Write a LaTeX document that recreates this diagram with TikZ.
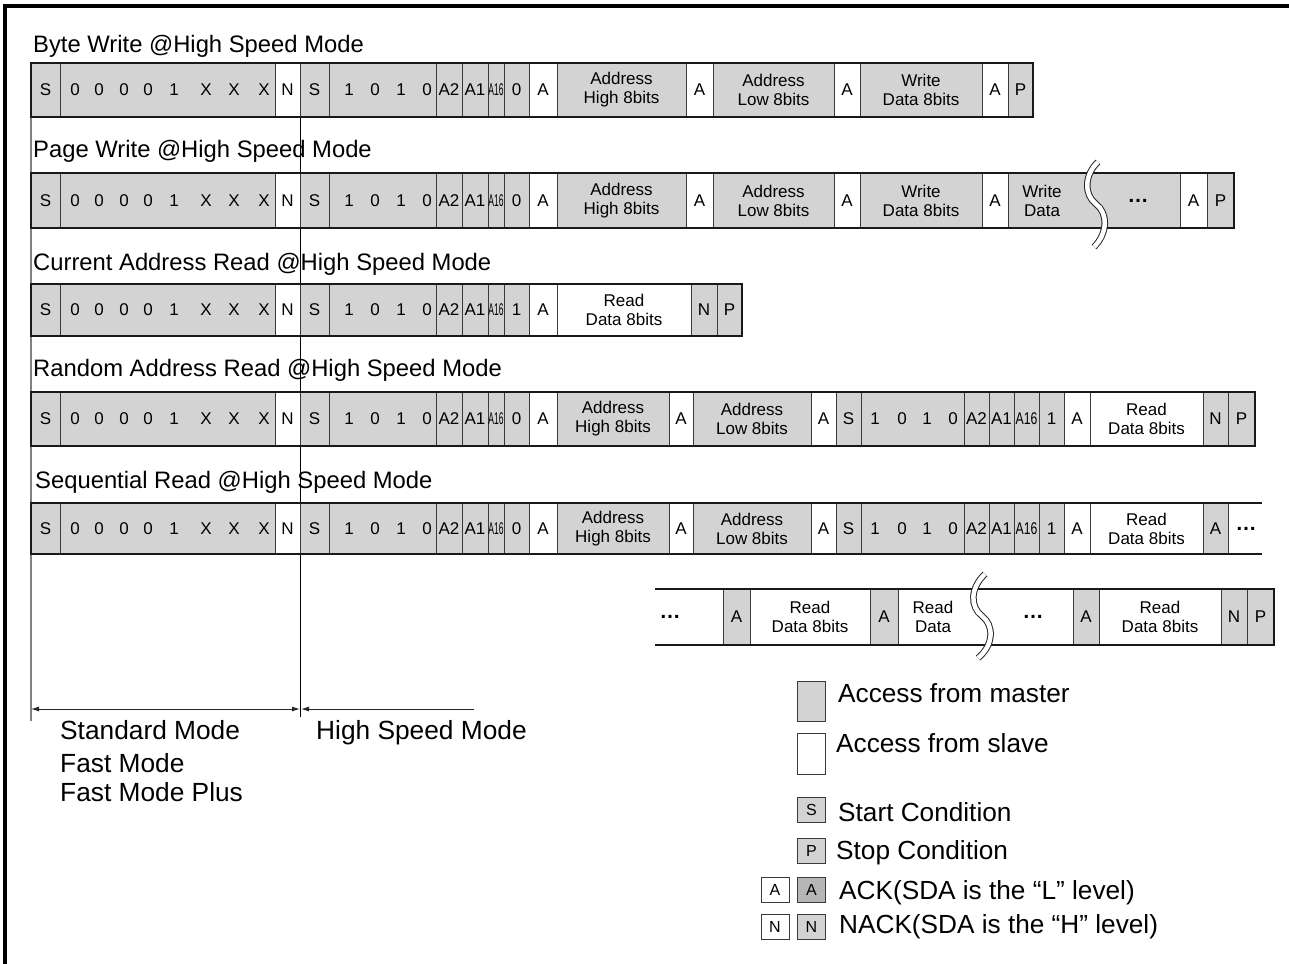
\documentclass[tikz,border=0pt]{standalone}
\usepackage{fontspec}
\setmainfont{Liberation Sans}
\usepackage{graphicx}
\usetikzlibrary{arrows.meta}
\definecolor{mgrey}{HTML}{D3D3D3}
\definecolor{dgrey}{HTML}{B6B6B6}
\definecolor{lineclr}{HTML}{3A3A3A}
\newcount\cellno
\newcommand{\yt}{0}
\newcommand{\yb}{0}
\newcommand{\setrow}[2]{\renewcommand{\yt}{#1}\renewcommand{\yb}{#2}}
\newcommand{\cellbx}[4]{%
  \global\advance\cellno by 1
  \filldraw[cellframe, fill=#3] (#1,\yt) rectangle (#2,\yb);
  \node[celltxt] (cell\the\cellno) at ({(#1+#2)/2},{(\yt+\yb)/2}) {#4};}
\newcommand{\plainbx}[3]{%
  \filldraw[cellframe, fill=#3] (#1,\yt) rectangle (#2,\yb);}
\newcommand{\chr}[2]{%
  \global\advance\cellno by 1
  \node[celltxt] (cell\the\cellno) at (#1,{(\yt+\yb)/2}) {#2};}
\newcommand{\dotstxt}{{\fontsize{21}{21}\selectfont\textbf{\char"2026}}}
\newcommand{\narrowA}{\scalebox{0.5}[1]{A16}}
\newcommand{\narrowB}{\scalebox{0.72}[1]{A16}}
\newcommand{\leftpart}[1]{%
  \cellbx{31}{60}{mgrey}{S}%
  \plainbx{60}{275}{mgrey}%
  \chr{75}{0}\chr{99}{0}\chr{124}{0}\chr{148}{0}\chr{174}{1}\chr{206}{X}\chr{234}{X}\chr{264}{X}%
  \cellbx{275}{300}{white}{N}%
  \cellbx{300}{329}{mgrey}{S}%
  \plainbx{329}{436}{mgrey}%
  \chr{349}{1}\chr{375}{0}\chr{401}{1}\chr{427}{0}%
  \cellbx{436}{462}{mgrey}{A2}%
  \cellbx{462}{488}{mgrey}{A1}%
  \cellbx{488}{504}{mgrey}{\narrowA}%
  \cellbx{504}{529}{mgrey}{#1}%
  \cellbx{529}{557}{white}{A}%
}
\begin{document}
\begin{tikzpicture}[x=1pt,y=-1pt,
  cellframe/.style={draw=lineclr, line width=0.9},
  outerframe/.style={draw=black!90, line width=1.8},
  celltxt/.style={font=\fontsize{17}{19}\selectfont, align=center, inner sep=0pt},
  titletxt/.style={font=\fontsize{23.8}{26}\selectfont, anchor=base west, inner sep=0pt},
  bigtxt/.style={font=\fontsize{26.3}{28}\selectfont, anchor=west, inner sep=0pt},
  legtxt/.style={font=\fontsize{26.2}{28}\selectfont, anchor=west, inner sep=0pt},
  smallbox/.style={draw=lineclr, line width=0.9, minimum width=28, minimum height=25, inner sep=0pt, font=\fontsize{16}{16}\selectfont},
  breakout/.style={line width=6.5, draw=black!85},
  breakin/.style={line width=4.5, draw=white},
  dimline/.style={draw=black!85, line width=0.9}]
\useasboundingbox (0,0) rectangle (1289,963);
% frame
\draw[line width=3.2] (5,975) -- (5,6) -- (1300,6);
% guide lines
\draw[draw=gray, line width=1.6] (31,117) -- (31,721);
\draw[draw=black, line width=0.9] (300,117) -- (300,717);
% titles
\node[titletxt] (t1) at (33,52.5) {Byte Write @High Speed Mode};
\node[titletxt] (t2) at (33,157) {Page Write @High Speed Mode};
\node[titletxt] (t3) at (33,270) {Current Address Read @High Speed Mode};
\node[titletxt] (t4) at (33,376) {Random Address Read @High Speed Mode};
\node[titletxt] (t5) at (35,488) {Sequential Read @High Speed Mode};
% ---------- row 1
\setrow{63}{117}
\leftpart{0}
\cellbx{557}{686}{mgrey}{Address\\High 8bits}
\cellbx{686}{713}{white}{A}
\cellbx{713}{834}{mgrey}{Address\\Low 8bits}
\cellbx{834}{860}{white}{A}
\cellbx{860}{982}{mgrey}{Write\\Data 8bits}
\cellbx{982}{1008}{white}{A}
\cellbx{1008}{1033}{mgrey}{P}
\draw[outerframe] (31,\yt) rectangle (1033,\yb);
% ---------- row 2
\setrow{173}{228}
\leftpart{0}
\cellbx{557}{686}{mgrey}{Address\\High 8bits}
\cellbx{686}{713}{white}{A}
\cellbx{713}{834}{mgrey}{Address\\Low 8bits}
\cellbx{834}{860}{white}{A}
\cellbx{860}{982}{mgrey}{Write\\Data 8bits}
\cellbx{982}{1008}{white}{A}
\plainbx{1008}{1180}{mgrey}
\chr{1042}{Write\\Data}
\chr{1138}{\dotstxt}
\cellbx{1180}{1207}{white}{A}
\cellbx{1207}{1234}{mgrey}{P}
\draw[outerframe] (31,\yt) rectangle (1234,\yb);
\draw[breakout] (1098,162) .. controls (1084,175) and (1084,195) .. (1096,204) .. controls (1108,213) and (1108,233) .. (1094,247);
\draw[breakin] (1098,162) .. controls (1084,175) and (1084,195) .. (1096,204) .. controls (1108,213) and (1108,233) .. (1094,247);
% ---------- row 3
\setrow{284}{336}
\leftpart{1}
\cellbx{557}{691}{white}{Read\\Data 8bits}
\cellbx{691}{717}{mgrey}{N}
\cellbx{717}{742}{mgrey}{P}
\draw[outerframe] (31,\yt) rectangle (742,\yb);
% ---------- row 4
\setrow{392}{446}
\leftpart{0}
\cellbx{557}{669}{mgrey}{Address\\High 8bits}
\cellbx{669}{693}{white}{A}
\cellbx{693}{811}{mgrey}{Address\\Low 8bits}
\cellbx{811}{836}{white}{A}
\cellbx{836}{861}{mgrey}{S}
\plainbx{861}{964}{mgrey}
\chr{875}{1}\chr{902}{0}\chr{927}{1}\chr{953}{0}
\cellbx{964}{989}{mgrey}{A2}
\cellbx{989}{1014}{mgrey}{A1}
\cellbx{1014}{1039}{mgrey}{\narrowB}
\cellbx{1039}{1064}{mgrey}{1}
\cellbx{1064}{1090}{white}{A}
\cellbx{1090}{1203}{white}{Read\\Data 8bits}
\cellbx{1203}{1228}{mgrey}{N}
\cellbx{1228}{1255}{mgrey}{P}
\draw[outerframe] (31,\yt) rectangle (1255,\yb);
% ---------- row 5
\setrow{503}{554}
\leftpart{0}
\cellbx{557}{669}{mgrey}{Address\\High 8bits}
\cellbx{669}{693}{white}{A}
\cellbx{693}{811}{mgrey}{Address\\Low 8bits}
\cellbx{811}{836}{white}{A}
\cellbx{836}{861}{mgrey}{S}
\plainbx{861}{964}{mgrey}
\chr{875}{1}\chr{902}{0}\chr{927}{1}\chr{953}{0}
\cellbx{964}{989}{mgrey}{A2}
\cellbx{989}{1014}{mgrey}{A1}
\cellbx{1014}{1039}{mgrey}{\narrowB}
\cellbx{1039}{1064}{mgrey}{1}
\cellbx{1064}{1090}{white}{A}
\cellbx{1090}{1203}{white}{Read\\Data 8bits}
\cellbx{1203}{1228}{mgrey}{A}
\chr{1246}{\dotstxt}
\draw[outerframe] (1262,\yt) -- (31,\yt) -- (31,\yb) -- (1262,\yb);
% ---------- row 6
\setrow{589}{645}
\chr{670}{\dotstxt}
\cellbx{723}{750}{mgrey}{A}
\cellbx{750}{870}{white}{Read\\Data 8bits}
\cellbx{870}{898}{mgrey}{A}
\chr{933}{Read\\Data}
\chr{1033}{\dotstxt}
\cellbx{1073}{1099}{mgrey}{A}
\cellbx{1099}{1221}{white}{Read\\Data 8bits}
\cellbx{1221}{1247}{mgrey}{N}
\cellbx{1247}{1274}{mgrey}{P}
\draw[outerframe] (655,\yt) -- (1274,\yt) -- (1274,\yb) -- (655,\yb);
\draw[breakout] (985,574) .. controls (970,588) and (970,607) .. (982,616) .. controls (994,625) and (994,645) .. (978,658);
\draw[breakin] (985,574) .. controls (970,588) and (970,607) .. (982,616) .. controls (994,625) and (994,645) .. (978,658);
% ---------- mode arrows
\coordinate (ml) at (31,709);
\coordinate (mm) at (300,709);
\coordinate (mm2) at (301,709);
\coordinate (mr) at (474,709);
\draw[dimline, {Latex[length=8pt,width=5pt]}-{Latex[length=8pt,width=5pt]}] (ml) -- (mm);
\draw[dimline, {Latex[length=8pt,width=5pt]}-] (mm2) -- (mr);
\node[bigtxt] (m1) at (60,730) {Standard Mode};
\node[bigtxt] (m2) at (60,763) {Fast Mode};
\node[bigtxt] (m3) at (60,792) {Fast Mode Plus};
\node[bigtxt] (m4) at (316,733) {High Speed Mode};
% ---------- legend
\node[smallbox, fill=mgrey, minimum height=40] (lg1) at (811.5,701) {};
\node[legtxt] (lt1) at (838,693) {Access from master};
\node[smallbox, fill=white, minimum height=41] (lg2) at (811.5,753.5) {};
\node[legtxt] (lt2) at (836,743) {Access from slave};
\node[smallbox, fill=mgrey] (lg3) at (811.5,809.5) {S};
\node[legtxt] (lt3) at (838,812) {Start Condition};
\node[smallbox, fill=mgrey] (lg4) at (811.5,850.5) {P};
\node[legtxt] (lt4) at (836,853) {Stop Condition};
\node[smallbox, fill=white] (lg5) at (775,889.5) {A};
\node[smallbox, fill=dgrey] (lg6) at (811.5,889.5) {A};
\node[legtxt] (lt5) at (839,893) {ACK(SDA is the “L” level)};
\node[smallbox, fill=white] (lg7) at (775,927) {N};
\node[smallbox, fill=mgrey] (lg8) at (811.5,927) {N};
\node[legtxt] (lt6) at (839,927) {NACK(SDA is the “H” level)};
\end{tikzpicture}
\end{document}
